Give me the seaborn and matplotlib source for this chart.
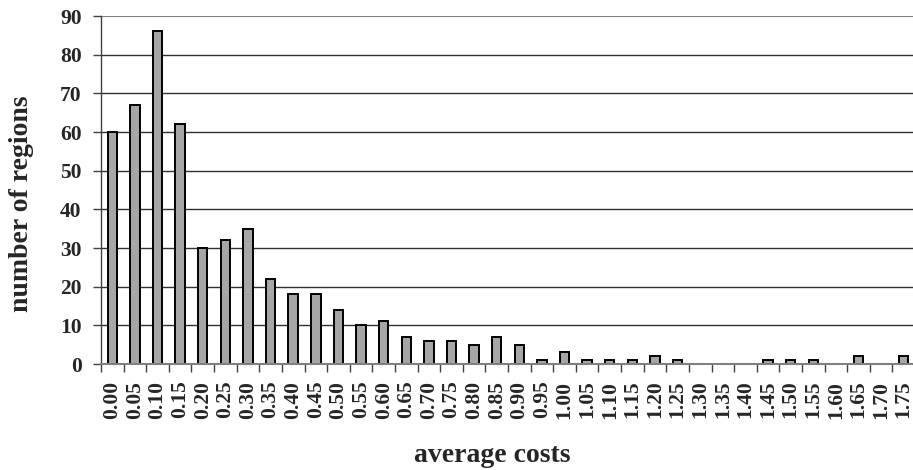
import matplotlib
matplotlib.use("Agg")
import matplotlib.pyplot as plt
import seaborn as sns
import pandas as pd
import numpy as np
from matplotlib.ticker import FixedLocator

categories = ["0.00", "0.05", "0.10", "0.15", "0.20", "0.25", "0.30", "0.35", "0.40",
              "0.45", "0.50", "0.55", "0.60", "0.65", "0.70", "0.75", "0.80", "0.85",
              "0.90", "0.95", "1.00", "1.05", "1.10", "1.15", "1.20", "1.25", "1.30",
              "1.35", "1.40", "1.45", "1.50", "1.55", "1.60", "1.65", "1.70", "1.75"]
counts = [60, 67, 86, 62, 30, 32, 35, 22, 18, 18, 14, 10, 11, 7, 6, 6, 5, 7,
          5, 1, 3, 1, 1, 1, 2, 1, 0, 0, 0, 1, 1, 1, 0, 2, 0, 2]
y_ticks = [0, 10, 20, 30, 40, 50, 60, 70, 80, 90]

sns.set_theme(style="white")
plt.rcParams['font.family'] = ['Liberation Serif', 'DejaVu Serif']
plt.rcParams['font.weight'] = 'bold'

df = pd.DataFrame({"cost": categories, "n": counts})

W, H = 913, 470
fig = plt.figure(figsize=(W / 100, H / 100), dpi=100)
ax = fig.add_axes([101 / W, (H - 364) / H, (915 - 101) / W, (364 - 16) / H])

sns.barplot(data=df, x="cost", y="n", order=categories, color="#a6a6a6",
            edgecolor="black", linewidth=1.4, width=0.42, saturation=1, ax=ax, zorder=3)

ax.set_ylim(0, 90)
ax.set_xlim(-0.5, len(categories) - 0.5)
ax.set_yticks(y_ticks)
ax.yaxis.grid(True, color="#303030", linewidth=1.0, zorder=0)
ax.xaxis.grid(False)
gl = ax.get_ygridlines()
if gl:
    gl[-1].set_color("#808080")
    gl[-1].set_linewidth(1.5)

for s in ["top", "right"]:
    ax.spines[s].set_visible(False)
ax.spines["left"].set_color("#404040")
ax.spines["left"].set_linewidth(1.0)
ax.spines["bottom"].set_color("#808080")
ax.spines["bottom"].set_linewidth(1.5)
ax.spines["bottom"].set_zorder(4)

ax.tick_params(axis="y", which="major", left=True, length=6, width=1, color="#404040",
               labelsize=15.5, pad=8)
ax.tick_params(axis="x", which="major", bottom=True, length=0, labelsize=15.5, pad=12,
               labelrotation=90)
ax.xaxis.set_minor_locator(FixedLocator(np.arange(-0.5, len(categories), 1.0)))
ax.tick_params(axis="x", which="minor", bottom=True, length=6, width=1, color="#404040")
for lbl in ax.get_xticklabels() + ax.get_yticklabels():
    lbl.set_fontweight("bold")

ax.set_xlabel("average costs", fontsize=20, fontweight="bold", va="center")
ax.set_ylabel("number of regions", fontsize=20, fontweight="bold", va="center")
ax.xaxis.set_label_coords((492 - 101) / 814, (364 - 456) / 348)
ax.yaxis.set_label_coords((22 - 101) / 814, (364 - 204) / 348)

fig.savefig("out.png", dpi=100)
